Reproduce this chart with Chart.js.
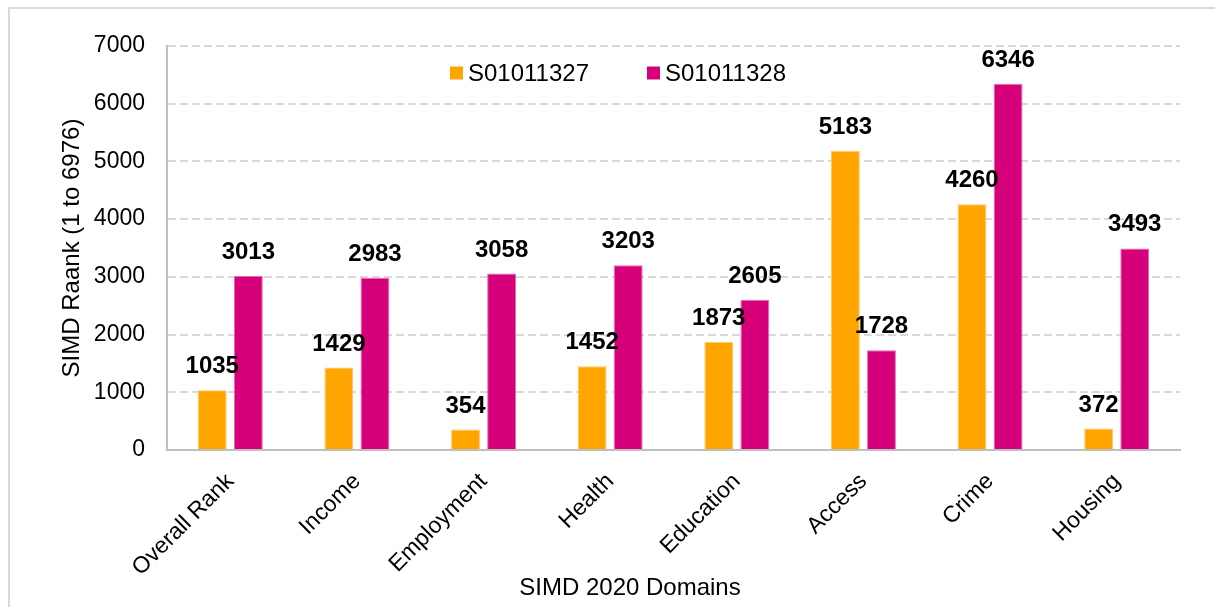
<!DOCTYPE html>
<html>
<head>
<meta charset="utf-8">
<script src="https://cdn.jsdelivr.net/npm/chart.js@4/dist/chart.umd.min.js"></script>
<style>
  html, body { margin: 0; padding: 0; background: #fff; overflow: hidden; }
  #frame {
    position: absolute; left: 8px; top: 7px; width: 1230px; height: 640px;
    border: 2px solid #d9d9d9; box-sizing: border-box;
  }
  #wrap { position: absolute; left: 0; top: 0; width: 1215px; height: 607px; }
</style>
</head>
<body>
<div id="frame"></div>
<div id="wrap"><canvas id="myChart"></canvas></div>
<script>
let domains = ["Overall Rank", "Income", "Employment", "Health", "Education", "Access", "Crime", "Housing"];
let zoneA = [1035, 1429, 354, 1452, 1873, 5183, 4260, 372];
let zoneB = [3013, 2983, 3058, 3203, 2605, 1728, 6346, 3493];
let seriesNames = ["S01011327", "S01011328"];
let yTicks = [0, 1000, 2000, 3000, 4000, 5000, 6000, 7000];
let xTitle = "SIMD 2020 Domains";
let yTitle = "SIMD Raank (1 to 6976)";

let fontName = "'Liberation Sans', Arial, sans-serif";

// value labels drawn above each bar
let barLabels = {
  id: "barLabels",
  afterDatasetsDraw: (chart) => {
    let ctx = chart.ctx;
    ctx.save();
    ctx.font = "bold 24px " + fontName;
    ctx.fillStyle = "#000";
    ctx.textAlign = "center";
    ctx.textBaseline = "alphabetic";
    chart.data.datasets.forEach((ds, i) => {
      let meta = chart.getDatasetMeta(i);
      meta.data.forEach((bar, j) => {
        ctx.fillText(String(ds.data[j]), bar.x, bar.y - 17);
      });
    });
    ctx.restore();
  },
};

// legend inside the plot near the top, plus the x axis title (sits left of centre)
let innerLegend = {
  id: "innerLegend",
  afterDraw: (chart) => {
    let ctx = chart.ctx;
    ctx.save();
    ctx.font = "24px " + fontName;
    ctx.textBaseline = "middle";
    let box = 13, gapText = 5, gapItem = 58;
    let items = chart.data.datasets.map((ds) => ({
      label: ds.label,
      color: ds.backgroundColor,
      w: box + gapText + ctx.measureText(ds.label).width,
    }));
    let total = items.reduce((s, it) => s + it.w, 0) + gapItem * (items.length - 1);
    let x = 618 - total / 2;
    let y = chart.chartArea.top + 27;
    for (let it of items) {
      ctx.fillStyle = it.color;
      ctx.fillRect(x, y - box / 2, box, box);
      ctx.fillStyle = "#000";
      ctx.textAlign = "left";
      ctx.fillText(it.label, x + box + gapText, y + 1);
      x += it.w + gapItem;
    }

    ctx.textAlign = "center";
    ctx.fillText(xTitle, 630, chart.height - 19);
    ctx.restore();
  },
};

let config = {
  type: "bar",
  data: {
    labels: domains,
    datasets: [
      {
        label: seriesNames[0],
        data: zoneA,
        backgroundColor: "#ffa500",
        borderColor: "#ffc766",
        borderWidth: 1,
        barPercentage: 0.8,
        categoryPercentage: 0.57,
      },
      {
        label: seriesNames[1],
        data: zoneB,
        backgroundColor: "#d6007a",
        borderColor: "#e866ae",
        borderWidth: 1,
        barPercentage: 0.8,
        categoryPercentage: 0.57,
      },
    ],
  },
  options: {
    responsive: true,
    maintainAspectRatio: false,
    animation: false,
    layout: { padding: { left: 58, right: 35, top: 46, bottom: 5 } },
    plugins: {
      legend: { display: false },
      tooltip: { enabled: false },
    },
    scales: {
      x: {
        afterFit: (axis) => { axis.height = 152; },
        grid: { display: false },
        border: { display: true, color: "#bfbfbf", width: 2 },
        ticks: {
          color: "#000",
          font: { family: fontName, size: 23 },
          minRotation: 45,
          maxRotation: 45,
          padding: 10,
        },
      },
      y: {
        min: 0,
        max: 7000,
        afterFit: (axis) => { axis.width = 109; },
        afterBuildTicks: (axis) => {
          axis.ticks = yTicks.map((v) => ({ value: v }));
        },
        grid: { color: "#d9d9d9", lineWidth: 2, drawTicks: false },
        border: { display: true, color: "#bfbfbf", width: 2, dash: [8, 4] },
        ticks: {
          color: "#000",
          font: { family: fontName, size: 23 },
          padding: 22,
          callback: (v) => String(v),
        },
        title: {
          display: true,
          text: yTitle,
          color: "#000",
          font: { family: fontName, size: 24 },
          padding: { top: 0, bottom: 6 },
        },
      },
    },
  },
  plugins: [barLabels, innerLegend],
};

new Chart(document.getElementById("myChart"), config);
</script>
</body>
</html>
